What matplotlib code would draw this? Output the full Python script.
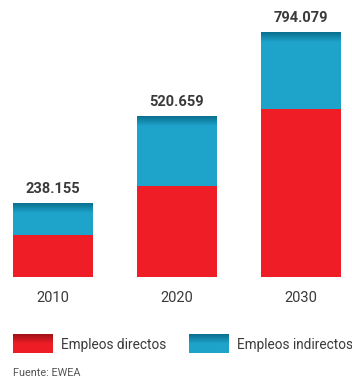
import numpy as np
import matplotlib
matplotlib.use("Agg")
import matplotlib.pyplot as plt
from matplotlib.colors import LinearSegmentedColormap

# Employment in wind energy (EU), direct + indirect jobs
years = ["2010", "2020", "2030"]
totals = [238155, 520659, 794079]
directos = [136000, 294000, 544000]
indirectos = [t - d for t, d in zip(totals, directos)]
total_labels = ["238.155", "520.659", "794.079"]
legend_labels = ["Empleos directos", "Empleos indirectos"]
source_text = "Fuente: EWEA"

RED = "#ee1d26"
BLUE = "#1ea3ca"
BLUE_DARK = "#0b6f8e"
RED_DARK = "#9e1219"
TEXT = "#3a3a3a"
FONT = ["Roboto", "DejaVu Sans"]

W, H, DPI = 352, 378, 100
fig = plt.figure(figsize=(W / DPI, H / DPI), dpi=DPI)

# main bar axes, mapped so the baseline sits at y=277 px
base_px = 276.7
px_per_unit = 245.0 / totals[2]
ax = fig.add_axes([0, (H - base_px) / H, 1, base_px / H])
ax.set_xlim(-53 / 124, (W - 53) / 124)
ax.set_ylim(0, base_px / px_per_unit)
ax.axis("off")

x = np.arange(len(years))
width = 80 / 124
ax.bar(x, directos, width=width, color=RED, linewidth=0)
ax.bar(x, indirectos, width=width, bottom=directos, color=BLUE, linewidth=0)

# darker shading at the top of each stack
cap_cmap = LinearSegmentedColormap.from_list("cap", [BLUE, BLUE_DARK])
grad = np.linspace(0, 1, 64).reshape(-1, 1)
cap_h = 10 / px_per_unit
for xi, t in zip(x, totals):
    ax.imshow(grad, cmap=cap_cmap, aspect="auto", origin="lower",
              extent=[xi - width / 2, xi + width / 2, t - cap_h, t], zorder=3)

for xi, t, lab in zip(x, totals, total_labels):
    ax.annotate(lab, (xi, t), xytext=(0, 5), textcoords="offset points",
                ha="center", va="bottom", fontsize=10.5, fontweight="bold",
                color=TEXT, family=FONT)

ax.set_xlim(-53 / 124, (W - 53) / 124)
ax.set_ylim(0, base_px / px_per_unit)

# overlay in pixel coordinates for category labels, legend and source
ov = fig.add_axes([0, 0, 1, 1], facecolor="none")
ov.set_xlim(0, W)
ov.set_ylim(H, 0)
ov.axis("off")

for i, yr in enumerate(years):
    ov.text(53 + 124 * i, 298, yr, ha="center", va="center", fontsize=10.5,
            color=TEXT, family=FONT)

swatches = [(13, RED, RED_DARK), (189, BLUE, BLUE_DARK)]
for (sx, c, cd), lab in zip(swatches, legend_labels):
    cm = LinearSegmentedColormap.from_list("sw", [cd, c, c])
    ov.imshow(grad, cmap=cm, aspect="auto",
              extent=[sx, sx + 40, 353.5, 335])
    ov.text(sx + 48, 344.5, lab, ha="left", va="center", fontsize=9.8,
            color=TEXT, family=FONT)

ov.text(13, 373, source_text, ha="left", va="center", fontsize=7.8,
        color="#555555", family=FONT)
ov.set_xlim(0, W)
ov.set_ylim(H, 0)

fig.savefig("out.png", dpi=DPI)
